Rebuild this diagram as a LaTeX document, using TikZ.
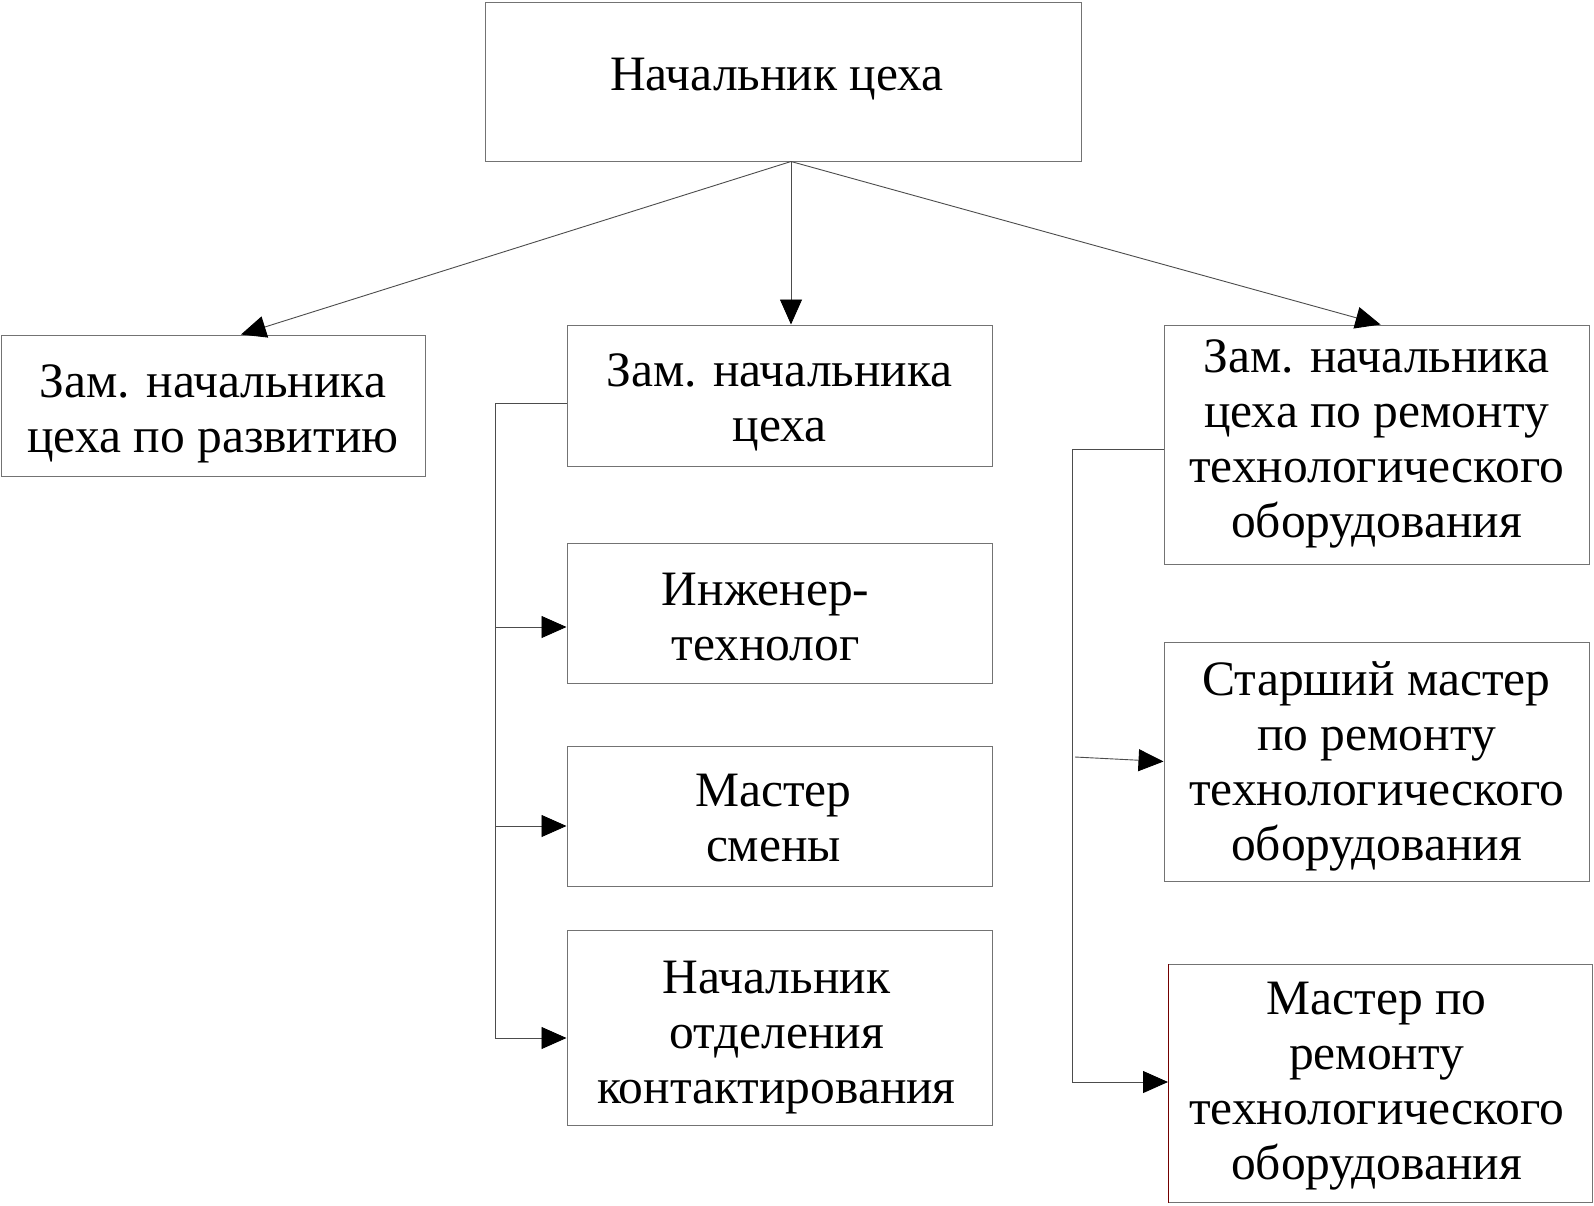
\documentclass[tikz,border=0pt]{standalone}
\usepackage{fontspec}
\setmainfont{Liberation Serif}
\usetikzlibrary{arrows.meta}
\tikzset{
  box/.style={draw=black!55, line width=1pt, inner sep=0pt},
  txt/.style={align=center, inner sep=0pt, font=\fontsize{49.5}{55}\selectfont, text=black},
  conn/.style={draw=black!70, line width=0.9pt},
  arr/.style={conn, -{Triangle[length=25pt,width=22pt,color=black]}}
}
\begin{document}
\begin{tikzpicture}[x=1pt,y=-1pt]
\useasboundingbox (0,0) rectangle (1594,1205);
\fill[white] (0,0) rectangle (1594,1205);
\node[box, minimum width=596pt, minimum height=159pt] (top) at (783,81.5) {};
\node[box, minimum width=424pt, minimum height=141pt] (dev) at (213,405.5) {};
\node[box, minimum width=425pt, minimum height=141pt] (dep) at (779.5,395.5) {};
\node[box, minimum width=425pt, minimum height=239pt] (rep) at (1376.5,444.5) {};
\node[box, minimum width=425pt, minimum height=140pt] (eng) at (779.5,613) {};
\node[box, minimum width=425pt, minimum height=140pt] (shift) at (779.5,816) {};
\node[box, minimum width=425pt, minimum height=195pt] (contact) at (779.5,1027.5) {};
\node[box, minimum width=425pt, minimum height=239pt] (senior) at (1376.5,761.5) {};
\node[box, minimum width=424pt, minimum height=238pt] (master) at (1380.5,1083.5) {};
\draw[draw=red!45!black, line width=1pt] (master.north west) -- (master.south west);
% texts
\node[txt] (top-t) at ([shift={(-6,-2)}]top.center) {Начальник цеха};
\node[txt] (dev-t) at ([shift={(0,8)}]dev.center) {Зам. начальника\\цеха по развитию};
\node[txt] (dep-t) at ([shift={(0,7)}]dep.center) {Зам. начальника\\цеха};
\node[txt] (rep-t) at ([shift={(0,-1)}]rep.center) {Зам. начальника\\цеха по ремонту\\технологического\\оборудования};
\node[txt] (eng-t) at ([shift={(-14,4)}]eng.center) {Инженер-\\технолог};
\node[txt] (shift-t) at ([shift={(-6,2)}]shift.center) {Мастер\\смены};
\node[txt] (contact-t) at ([shift={(-3,10)}]contact.center) {Начальник\\отделения\\контактирования};
\node[txt] (senior-t) at ([shift={(0,5)}]senior.center) {Старший мастер\\по ремонту\\технологического\\оборудования};
\node[txt] (master-t) at ([shift={(-4,3)}]master.center) {Мастер по\\ремонту\\технологического\\оборудования};
% top connectors
\coordinate (apex) at ([xshift=8pt]top.south);
\draw[arr] (apex) -- ([xshift=28pt]dev.north);
\draw[arr] (apex) -- (apex |- dep.north);
\draw[arr] (apex) -- ([xshift=4pt]rep.north);
% left tree
\coordinate (lt) at (495,403);
\coordinate (e1) at ([yshift=-14pt]eng.west);
\coordinate (s1) at ([yshift=-10pt]shift.west);
\coordinate (c1) at ([yshift=-10.5pt]contact.west);
\draw[conn] (dep.west |- lt) -- (lt) -- (lt |- c1);
\draw[arr] (lt |- e1) -- (e1);
\draw[arr] (lt |- s1) -- (s1);
\draw[arr] (lt |- c1) -- (c1);
% right tree
\coordinate (rt) at (1072,449);
\coordinate (m1) at ([yshift=1.5pt]master.west);
\coordinate (sr) at (1075,757);
\draw[conn] (rep.west |- rt) -- (rt) -- (rt |- m1);
\draw[arr] (sr) -- (senior.west);
\draw[arr] (rt |- m1) -- (m1);
\end{tikzpicture}
\end{document}
